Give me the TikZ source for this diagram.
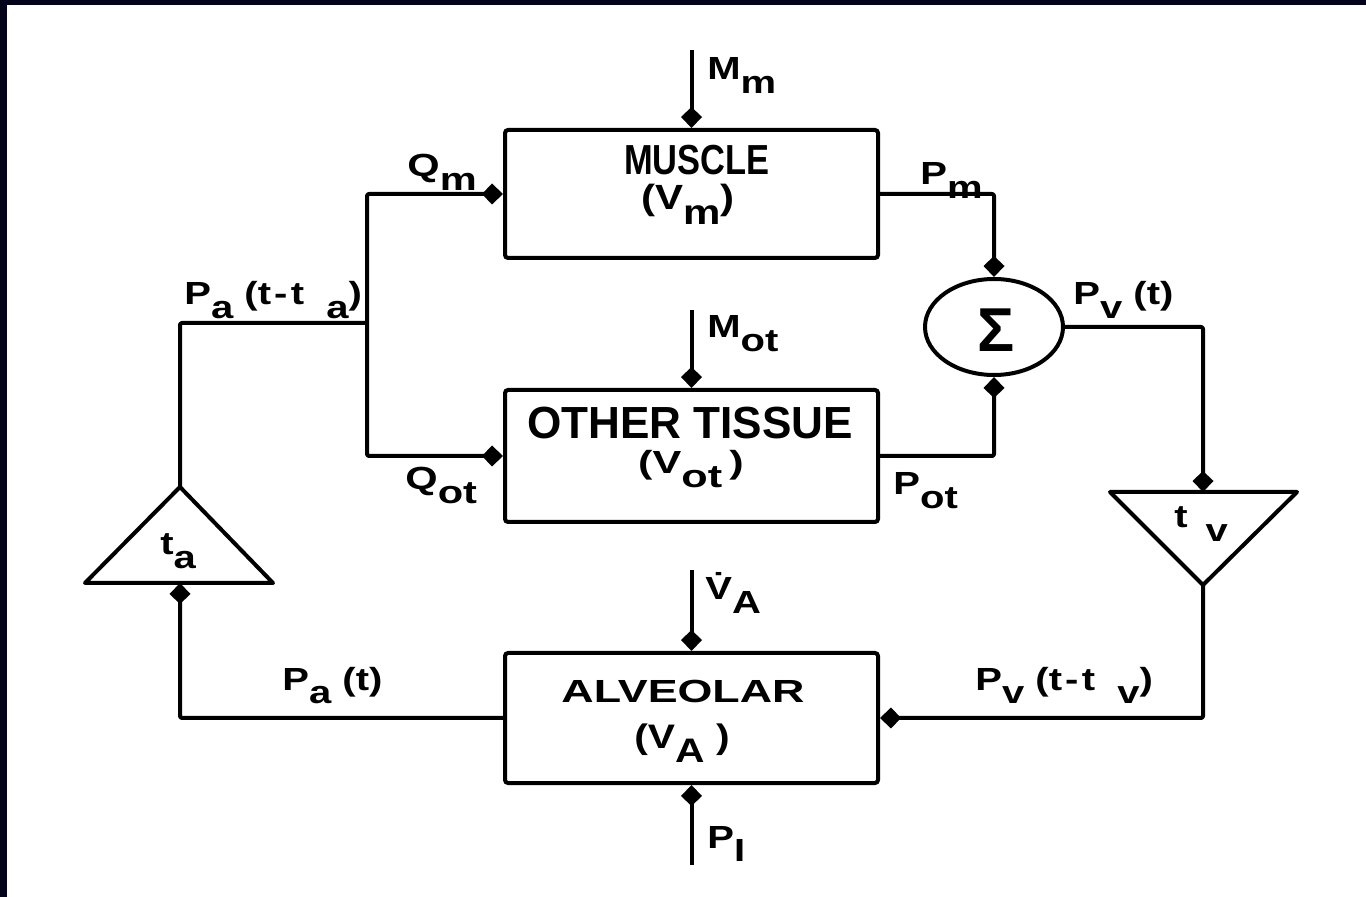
\documentclass[tikz,border=0pt]{standalone}
\usepackage{fontspec}
\setmainfont{Liberation Sans}
\usetikzlibrary{arrows.meta,shapes.geometric}
\definecolor{framec}{HTML}{03031A}
\newcommand{\dn}[1]{\raisebox{-0.42em}{#1}}
\newcommand{\W}[2][1.25]{\scalebox{#1}[1]{#2}}
\begin{document}
\begin{tikzpicture}[x=0.5pt,y=-0.5pt,
  ln/.style={line width=2pt, line join=round, rounded corners=1pt},
  arr/.style={ln, -{Kite[length=10.5pt,width=10.5pt,inset=5pt]}},
  blk/.style={draw, line width=2pt, rounded corners=1.5pt, minimum width=186.5pt, inner sep=0pt},
  lbl/.style={font=\fontsize{16}{18}\selectfont\bfseries, inner sep=0pt, anchor=base west},
  btxt/.style={inner sep=0pt, anchor=base}]
\useasboundingbox (0,0) rectangle (1366,897);
\fill[white] (-20,-20) rectangle (1390,920);
\fill[framec] (-20,-20) rectangle (1390,5);
\fill[framec] (-20,-20) rectangle (7,920);

% blocks
\node[blk, minimum height=64pt] (mus) at (691.5,194) {};
\node[blk, minimum height=66pt] (oth) at (691.5,456) {};
\node[blk, minimum height=65pt] (alv) at (691.5,718) {};
\node[draw, ellipse, line width=2pt, minimum width=69pt, minimum height=48pt, inner sep=0pt] (sig) at (994,327) {};
\node[btxt] (sigT) at (996,352) {\fontsize{31}{31}\selectfont\bfseries Σ};

% block texts
\node[btxt] (musT1) at (697,175) {\fontsize{21}{24}\selectfont\bfseries\W[0.82]{MUSCLE}};
\node[btxt] (musT2) at (688,210) {\fontsize{17.5}{20}\selectfont\bfseries\W[1.2]{(V\dn{m})}};
\node[btxt] (othT1) at (690,439) {\fontsize{22.5}{25}\selectfont\bfseries\W[0.98]{OTHER TISSUE}};
\node[btxt] (othT2) at (691,474) {\fontsize{16}{18}\selectfont\bfseries\W[1.35]{(V\dn{ot}\,)}};
\node[btxt] (alvT1) at (683,703) {\fontsize{16}{18}\selectfont\bfseries\W[1.4]{ALVEOLAR}};
\node[btxt] (alvT2) at (682,748) {\fontsize{17}{19}\selectfont\bfseries\W[1.2]{(V\dn{A} )}};

% triangles
\coordinate (taA) at (180,487);
\coordinate (taL) at (85,583);
\coordinate (taR) at (273,583);
\coordinate (taB) at (180,583);
\draw[line width=2pt, line join=round] (taA) -- (taL) -- (taR) -- cycle;
\node[lbl] (taT) at (160,555) {\W{t\dn{a}}};

\coordinate (tvL) at (1110,492);
\coordinate (tvR) at (1297,492);
\coordinate (tvA) at (1203,585);
\coordinate (tvB) at (1203,492);
\draw[line width=2pt, line join=round] (tvL) -- (tvR) -- (tvA) -- cycle;
\node[lbl] (tvT) at (1174,528) {\W{t\ \,\dn{v}}};

% input coordinates
\coordinate (mmIn) at (691.5,50);
\coordinate (motIn) at (691.5,310);
\coordinate (vaIn) at (691.5,570);
\coordinate (piIn) at (691.5,865);
\coordinate (split) at (367,323);

% connectors
\draw[arr] (mmIn) -- (mus.north);
\draw[arr] (motIn) -- (oth.north);
\draw[arr] (vaIn) -- (alv.north);
\draw[arr] (piIn) -- (alv.south);
\draw[ln] (taA) |- (split);
\draw[arr] (split) |- (mus.west);
\draw[arr] (split) |- (oth.west);
\draw[arr] (mus.east) -| (sig.north);
\draw[arr] (oth.east) -| (sig.south);
\draw[arr] (sig.east) -| (tvB);
\draw[arr] (tvA) |- (alv.east);
\draw[arr] (alv.west) -| (taB);

% labels
\node[lbl] (lMm) at (707,80) {\W{M\dn{m}}};
\node[lbl] (lMot) at (707,338) {\W{M\dn{ot}}};
\node[lbl] (lVA) at (705,600) {\W{\.{V}\dn{A}}};
\node[lbl] (lPI) at (707,848) {\W{P\dn{I}}};
\node[lbl] (lQm) at (407,177) {\W[1.3]{Q\dn{m}}};
\node[lbl] (lQot) at (405,490) {\W[1.3]{Q\dn{ot}}};
\node[lbl] (lPm) at (920,185) {\W{P\dn{m}}};
\node[lbl] (lPot) at (893,495) {\W{P\dn{ot}}};
\node[lbl] (lPvt) at (1073,305) {\W{P\dn{v} (t)}};
\node[lbl] (lPat) at (184,305) {\W{P\dn{a} (t\kern0.08em-\kern0.08em t\ \ \dn{a})}};
\node[lbl] (lPa) at (282,690) {\W{P\dn{a} (t)}};
\node[lbl] (lPv) at (975,690) {\W{P\dn{v} (t\kern0.08em-\kern0.08em t\ \ \dn{v})}};
\end{tikzpicture}
\end{document}
